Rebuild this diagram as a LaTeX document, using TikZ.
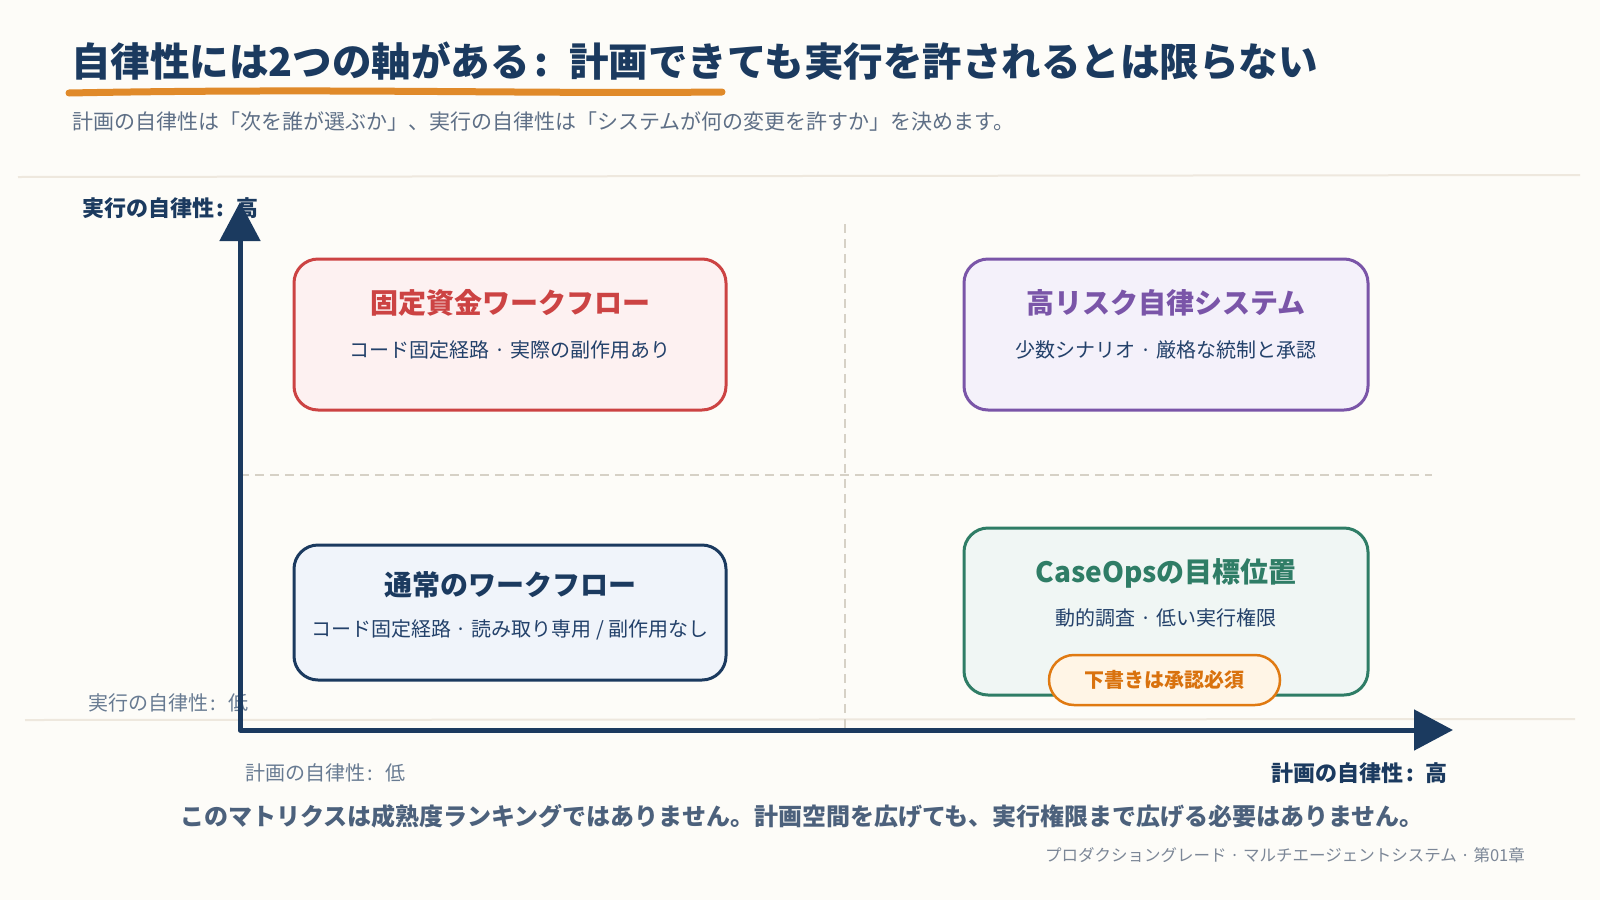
\documentclass[tikz,border=0pt]{standalone}
\usepackage{fontspec}
\setmainfont{Noto Sans CJK JP}
\usetikzlibrary{arrows.meta}
\newcommand{\jcolon}{\makebox[1em][l]{\hspace{0.12em}:}}
\definecolor{bgc}{HTML}{FDFCF8}
\definecolor{navy}{HTML}{1B3A5F}
\definecolor{subg}{HTML}{5E6F86}
\definecolor{lowg}{HTML}{687B92}
\definecolor{noteg}{HTML}{4C617C}
\definecolor{footg}{HTML}{7C8797}
\definecolor{sepc}{HTML}{EEE8DE}
\definecolor{dashc}{HTML}{D6D1C6}
\definecolor{orangeU}{HTML}{E08A2A}
\definecolor{redS}{HTML}{CC4343}
\definecolor{redF}{HTML}{FDF1F1}
\definecolor{purS}{HTML}{7A55A8}
\definecolor{purF}{HTML}{F4F1FA}
\definecolor{grnS}{HTML}{2F7D66}
\definecolor{grnF}{HTML}{F0F6F4}
\definecolor{navS}{HTML}{1B3A5F}
\definecolor{navF}{HTML}{F0F4FA}
\definecolor{badS}{HTML}{E07A12}
\definecolor{badF}{HTML}{FFF5E6}
\definecolor{badT}{HTML}{D9720E}
\definecolor{boxT}{HTML}{23416A}
\tikzset{
  quad/.style={draw=#1S, fill=#1F, line width=3pt, rounded corners=24pt, inner sep=0pt},
  qtitle/.style={inner sep=0pt, font=\bfseries\fontsize{28}{32}\selectfont},
  qsub/.style={inner sep=0pt, text=boxT, font=\fontsize{20}{24}\selectfont},
  lowlab/.style={inner sep=0pt, text=lowg, font=\fontsize{20}{24}\selectfont},
  highlab/.style={inner sep=0pt, text=navy, font=\bfseries\fontsize{22}{26}\selectfont},
  gridline/.style={draw=dashc, line width=1.6pt, dash pattern=on 9pt off 6pt},
  sepline/.style={draw=sepc, line width=2pt},
}
\begin{document}
\begin{tikzpicture}[x=1pt,y=-1pt]
\fill[bgc] (0,0) rectangle (1600,900);
\useasboundingbox (0,0) rectangle (1600,900);
% title
\node[anchor=west, inner sep=0pt, text=navy, font=\bfseries\fontsize{39.5}{44}\selectfont] (title) at (71,61) {自律性には2つの軸がある\jcolon 計画できても実行を許されるとは限らない};
\coordinate (ulA) at (69,93);
\coordinate (ulB) at (722,92);
\draw[orangeU, line width=7pt, line cap=round] (ulA) .. controls (330,88) and (520,94) .. (ulB);
\node[anchor=west, inner sep=0pt, text=subg, font=\fontsize{21}{25}\selectfont] (subtitle) at (72,122) {計画の自律性は「次を誰が選ぶか」、実行の自律性は「システムが何の変更を許すか」を決めます。};
% separators
\coordinate (s1a) at (18,177); \coordinate (s1b) at (1580,175);
\draw[sepline] (s1a) -- (s1b);
\coordinate (s2a) at (25,720); \coordinate (s2b) at (1575,719);
\draw[sepline] (s2a) -- (s2b);
% grid dashed lines
\coordinate (vA) at (845,224); \coordinate (vB) at (845,730);
\draw[gridline] (vA) -- (vB);
\coordinate (hA) at (240,475); \coordinate (hB) at (1432,475);
\draw[gridline] (hA) -- (hB);
% axis labels
\node[anchor=west, highlab] (ylabhigh) at (82,208) {実行の自律性\jcolon 高};
\node[anchor=west, lowlab] (ylablow) at (88,703) {実行の自律性\jcolon 低};
\node[anchor=west, lowlab] (xlablow) at (245,773) {計画の自律性\jcolon 低};
\node[anchor=east, highlab] (xlabhigh) at (1448,773) {計画の自律性\jcolon 高};
% axes
\coordinate (ytip) at (240,202);
\coordinate (origin) at (240,730);
\coordinate (xtip) at (1453,730);
\draw[navy, line width=5pt, line join=round, {Triangle[length=39pt,width=40pt]}-{Triangle[length=39pt,width=40pt]}] (ytip) -- (origin) -- (xtip);
% quadrant boxes
\node[quad=red, minimum width=432pt, minimum height=151pt] (fixed) at (510,334.5) {};
\node[qtitle, text=redS] (fixedT) at (510,303) {固定資金ワークフロー};
\node[qsub] (fixedS) at (510,350) {コード固定経路 · 実際の副作用あり};

\node[quad=pur, minimum width=404pt, minimum height=151pt] (risk) at (1166,334.5) {};
\node[qtitle, text=purS] (riskT) at (1166,303) {高リスク自律システム};
\node[qsub] (riskS) at (1166,350) {少数シナリオ · 厳格な統制と承認};

\node[quad=nav, minimum width=432pt, minimum height=135pt] (normal) at (510,612.5) {};
\node[qtitle, text=navy] (normalT) at (510,585) {通常のワークフロー};
\node[qsub] (normalS) at (510,630) {コード固定経路 · 読み取り専用 / 副作用なし};

\node[quad=grn, minimum width=404pt, minimum height=167pt] (caseops) at (1166,611.5) {};
\node[qtitle, text=grnS] (caseT) at (1166,573) {CaseOpsの目標位置};
\node[qsub] (caseS) at (1166,618) {動的調査 · 低い実行権限};
\node[draw=badS, fill=badF, line width=2.5pt, rounded corners=25pt, minimum width=231pt, minimum height=50pt, inner sep=0pt, text=badT, font=\bfseries\fontsize{20}{24}\selectfont] (badge) at (1164.5,680) {下書きは承認必須};
% bottom note and footer
\node[anchor=west, inner sep=0pt, text=noteg, font=\bfseries\fontsize{24}{28}\selectfont] (note) at (180,816) {このマトリクスは成熟度ランキングではありません。計画空間を広げても、実行権限まで広げる必要はありません。};
\node[anchor=east, inner sep=0pt, text=footg, font=\fontsize{16.5}{20}\selectfont] (footer) at (1525,855) {プロダクショングレード · マルチエージェントシステム · 第01章};
\end{tikzpicture}
\end{document}
